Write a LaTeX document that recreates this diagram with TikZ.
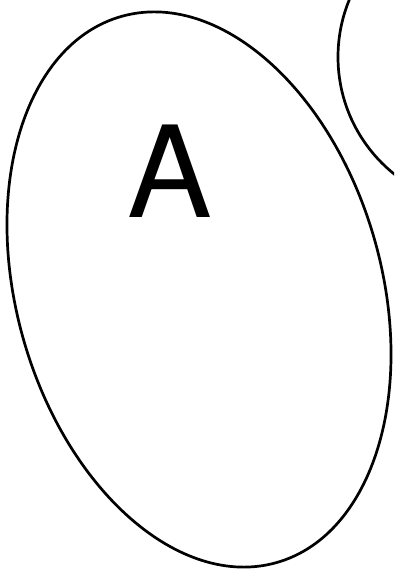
\documentclass[tikz,border=0pt]{standalone}
\usepackage{fontspec}
\setmainfont{TeX Gyre Heros}
\begin{document}
\begin{tikzpicture}[x=1pt,y=1pt,
  setline/.style={line width=2.7pt, draw=black},
  setlabel/.style={inner sep=0pt, font=\fontsize{127}{127}\selectfont}]
\useasboundingbox (0,0) rectangle (394,572);
\clip (0,0) rectangle (394,572);
\fill[white] (0,0) rectangle (394,572);
\draw[setline] (199,282.5) ellipse[x radius=182.5, y radius=283.9, rotate=15.9];
\draw[setline] (488,515) circle[radius=150];
\node[setlabel, anchor=base] (labelA) at (169.5,354) {A};
\end{tikzpicture}
\end{document}
